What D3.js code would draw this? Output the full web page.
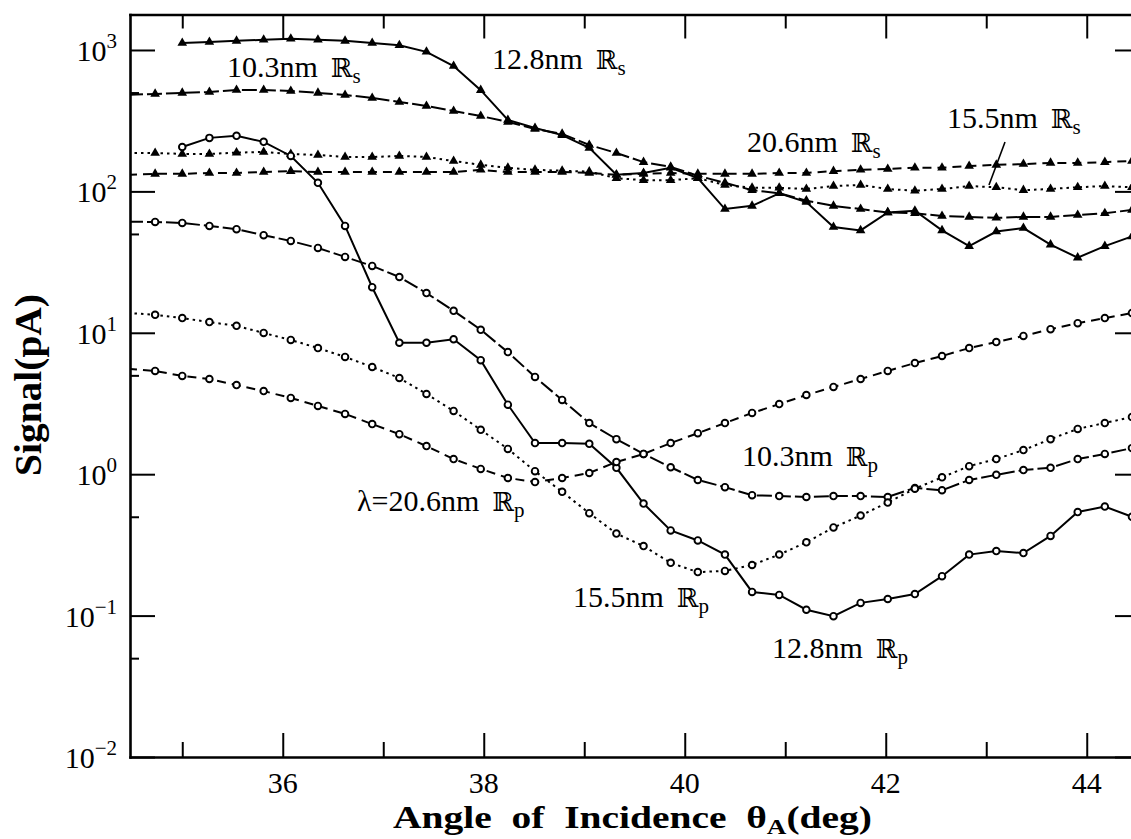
<!DOCTYPE html>
<html>
<head>
<meta charset="utf-8">
<script src="https://cdn.jsdelivr.net/npm/d3@7/dist/d3.min.js"></script>
<style>
  body { margin: 0; background: #fff; }
  svg { display: block; font-family: "Liberation Serif", "DejaVu Serif", serif; }
</style>
</head>
<body>
<div id="chart"></div>
<script>
// angle of incidence (deg) for every measured point
const angles = [34.46, 34.73, 35.00, 35.27, 35.54, 35.81, 36.08, 36.35, 36.62, 36.89,
  37.16, 37.43, 37.70, 37.97, 38.24, 38.51, 38.78, 39.05, 39.32, 39.59,
  39.86, 40.13, 40.40, 40.67, 40.94, 41.21, 41.48, 41.75, 42.02, 42.29,
  42.56, 42.83, 43.10, 43.37, 43.64, 43.91, 44.18, 44.45];

// s-polarised signal (pA), triangles
const rs128 = [null, null, 1120, 1140, 1160, 1180, 1200, 1180, 1160, 1120,
  1080, 970, 770, 520, 320, 281, 250, 203, 131, 135,
  147, 124, 75, 79, 97, 84, 56, 53, 71, 73,
  53, 41, 52, 55, 42, 34, 41, 48];
const rs103 = [481, 489, 497, 505, 521, 521, 513, 497, 481, 458,
  429, 402, 370, 341, 310, 276, 255, 213, 187, 161,
  149, 129, 115, 102, 97, 86, 79, 75, 71, 70,
  67, 66, 65, 66, 66, 68, 70, 74];
const rs155 = [187, 187, 184, 184, 188, 190, 184, 181, 175, 175,
  178, 175, 164, 154, 147, 142, 140, 138, 124, 120,
  120, 124, 111, 106, 106, 104, 109, 111, 104, 101,
  104, 109, 107, 102, 104, 107, 109, 107];
const rs206 = [131, 133, 133, 135, 135, 137, 139, 137, 137, 137,
  137, 137, 137, 142, 137, 137, 137, 135, 131, 133,
  135, 133, 133, 133, 135, 135, 139, 142, 144, 147,
  147, 151, 154, 156, 159, 159, 161, 164];

// p-polarised signal (pA), open circles
const rp128 = [null, null, 206, 239, 247, 224, 178, 115, 57, 21,
  8.5, 8.5, 9.0, 6.4, 3.1, 1.66, 1.66, 1.64, 1.11, 0.62,
  0.40, 0.34, 0.27, 0.147, 0.140, 0.110, 0.099, 0.123, 0.131, 0.142,
  0.19, 0.27, 0.286, 0.277, 0.366, 0.54, 0.59, 0.50];
const rp103 = [61, 60.8, 59.8, 57, 54, 49, 44.6, 39.8, 34.4, 29.7,
  24.8, 19.1, 14.3, 10.5, 7.3, 4.87, 3.35, 2.30, 1.77, 1.39,
  1.12, 0.91, 0.81, 0.71, 0.70, 0.69, 0.70, 0.70, 0.69, 0.80,
  0.77, 0.91, 0.99, 1.07, 1.11, 1.28, 1.39, 1.53];
const rp155 = [13.8, 13.4, 12.7, 11.9, 11.2, 9.97, 8.9, 7.8, 6.75, 5.73,
  4.79, 3.69, 2.80, 2.06, 1.51, 1.05, 0.75, 0.53, 0.38, 0.31,
  0.236, 0.203, 0.207, 0.228, 0.27, 0.33, 0.42, 0.51, 0.63, 0.79,
  0.95, 1.14, 1.28, 1.48, 1.77, 2.09, 2.30, 2.54];
const rp206 = [5.55, 5.37, 4.95, 4.71, 4.27, 3.87, 3.46, 3.04, 2.67, 2.26,
  1.92, 1.58, 1.28, 1.09, 0.94, 0.88, 0.94, 1.02, 1.22, 1.39,
  1.66, 1.95, 2.30, 2.71, 3.13, 3.63, 4.14, 4.71, 5.37, 6.11,
  6.85, 7.8, 8.6, 9.5, 10.6, 11.7, 12.7, 13.8];

// ticks
const xTicks = [36, 38, 40, 42, 44];
const xMinorTicks = [35, 37, 39, 41, 43];
const yTicks = [0.01, 0.1, 1, 10, 100, 1000];
const yTickExp = ['\u22122', '\u22121', '0', '1', '2', '3'];
const yMinorTicks = [0.05, 0.5, 5, 50, 500];

const width = 1131, height = 839;
const plot = { left: 130, right: 1140, top: 14.5, bottom: 757 };

const svg = d3.select('#chart').append('svg')
  .attr('width', width)
  .attr('height', height);

const x = d3.scaleLinear().domain([34.48, 44.53]).range([plot.left, plot.right]);
const y = d3.scaleLog().domain([0.01, 1782]).range([plot.bottom, plot.top]);

svg.append('clipPath').attr('id', 'clip')
  .append('rect')
  .attr('x', plot.left).attr('y', plot.top)
  .attr('width', plot.right - plot.left).attr('height', plot.bottom - plot.top);

// series: line style + marker
const series = [
  { values: rs128, dash: null, marker: 'tri' },
  { values: rs103, dash: '15,4', marker: 'tri' },
  { values: rs155, dash: '2.5,4', marker: 'tri' },
  { values: rs206, dash: '9,6', marker: 'tri' },
  { values: rp128, dash: null, marker: 'circ' },
  { values: rp103, dash: '15,4', marker: 'circ' },
  { values: rp155, dash: '2.5,4', marker: 'circ' },
  { values: rp206, dash: '9,6', marker: 'circ' }
];

const line = d3.line()
  .defined(d => d[1] != null)
  .x(d => x(d[0]))
  .y(d => y(d[1]));

const dataG = svg.append('g').attr('clip-path', 'url(#clip)');

series.forEach(s => {
  const pts = angles.map((a, i) => [a, s.values[i]]);
  dataG.append('path')
    .datum(pts)
    .attr('d', line)
    .attr('fill', 'none')
    .attr('stroke', '#000')
    .attr('stroke-width', 2)
    .attr('stroke-dasharray', s.dash);
});

series.forEach(s => {
  const pts = angles.map((a, i) => [a, s.values[i]])
    .filter(d => d[1] != null && d[0] >= x.domain()[0]);
  if (s.marker === 'tri') {
    dataG.selectAll(null).data(pts).enter().append('path')
      .attr('d', d3.symbol(d3.symbolTriangle, 40))
      .attr('transform', d => `translate(${x(d[0])},${y(d[1])})`)
      .attr('fill', '#000');
  } else {
    dataG.selectAll(null).data(pts).enter().append('circle')
      .attr('cx', d => x(d[0]))
      .attr('cy', d => y(d[1]))
      .attr('r', 3.3)
      .attr('fill', '#fff')
      .attr('stroke', '#000')
      .attr('stroke-width', 1.9);
  }
});

// axes, ticks pointing inward on all four sides
function styleAxis(g, keepDomain) {
  g.selectAll('.tick line').attr('stroke', '#000').attr('stroke-width', 2);
  g.selectAll('.tick text').remove();
  if (keepDomain) {
    g.select('.domain').attr('stroke', '#000').attr('stroke-width', 2.6).attr('stroke-linecap', 'square');
  } else {
    g.select('.domain').remove();
  }
}

svg.append('g').attr('transform', `translate(0,${plot.bottom})`)
  .call(d3.axisBottom(x).tickValues(xTicks).tickSizeInner(-24).tickSizeOuter(0).tickFormat(''))
  .call(g => styleAxis(g, true));
svg.append('g').attr('transform', `translate(0,${plot.bottom})`)
  .call(d3.axisBottom(x).tickValues(xMinorTicks).tickSizeInner(-15).tickSizeOuter(0).tickFormat(''))
  .call(g => styleAxis(g, false));
svg.append('g').attr('transform', `translate(0,${plot.top})`)
  .call(d3.axisTop(x).tickValues(xTicks).tickSizeInner(-24).tickSizeOuter(0).tickFormat(''))
  .call(g => styleAxis(g, true));
svg.append('g').attr('transform', `translate(0,${plot.top})`)
  .call(d3.axisTop(x).tickValues(xMinorTicks).tickSizeInner(-14).tickSizeOuter(0).tickFormat(''))
  .call(g => styleAxis(g, false));

svg.append('g').attr('transform', `translate(${plot.left},0)`)
  .call(d3.axisLeft(y).tickValues(yTicks).tickSizeInner(-25).tickSizeOuter(0).tickFormat(''))
  .call(g => styleAxis(g, true));
svg.append('g').attr('transform', `translate(${plot.left},0)`)
  .call(d3.axisLeft(y).tickValues(yMinorTicks).tickSizeInner(-9).tickSizeOuter(0).tickFormat(''))
  .call(g => styleAxis(g, false));
svg.append('g').attr('transform', `translate(${plot.right},0)`)
  .call(d3.axisRight(y).tickValues(yTicks).tickSizeInner(-25).tickSizeOuter(0).tickFormat(''))
  .call(g => styleAxis(g, true));
svg.append('g').attr('transform', `translate(${plot.right},0)`)
  .call(d3.axisRight(y).tickValues(yMinorTicks).tickSizeInner(-9).tickSizeOuter(0).tickFormat(''))
  .call(g => styleAxis(g, false));

// tick labels
xTicks.forEach(v => {
  svg.append('text')
    .attr('x', x(v)).attr('y', 793)
    .attr('text-anchor', 'middle')
    .attr('font-size', 30)
    .text(v);
});

yTicks.forEach((v, i) => {
  const t = svg.append('text')
    .attr('x', 117).attr('y', y(v) + 11)
    .attr('text-anchor', 'end')
    .attr('font-size', 30);
  t.append('tspan').text('10');
  t.append('tspan').attr('dy', -13).attr('font-size', 21).text(yTickExp[i]);
});

// axis titles
const xt = svg.append('text')
  .attr('x', 393).attr('y', 828)
  .attr('font-size', 32)
  .attr('font-weight', 'bold')
  .attr('word-spacing', 8)
  .attr('textLength', 479)
  .attr('lengthAdjust', 'spacingAndGlyphs');
xt.append('tspan').text('Angle of Incidence \u03b8');
xt.append('tspan').attr('dy', 6).attr('font-size', 22).text('A');
xt.append('tspan').attr('dy', -6).text('(deg)');

svg.append('text')
  .attr('transform', 'rotate(-90)')
  .attr('x', -385).attr('y', 41)
  .attr('text-anchor', 'middle')
  .attr('font-size', 38)
  .attr('font-weight', 'bold')
  .attr('textLength', 182)
  .attr('lengthAdjust', 'spacingAndGlyphs')
  .text('Signal(pA)');

// curve labels
const labels = [
  { x: 227, y: 77, text: '10.3nm', sub: 's' },
  { x: 492, y: 69, text: '12.8nm', sub: 's' },
  { x: 747, y: 152, text: '20.6nm', sub: 's' },
  { x: 947, y: 128, text: '15.5nm', sub: 's' },
  { x: 742, y: 466, text: '10.3nm', sub: 'p' },
  { x: 357, y: 511, text: '\u03bb=20.6nm', sub: 'p' },
  { x: 573, y: 607, text: '15.5nm', sub: 'p' },
  { x: 772, y: 658, text: '12.8nm', sub: 'p' }
];

labels.forEach(l => {
  const t = svg.append('text')
    .attr('x', l.x).attr('y', l.y)
    .attr('font-size', 30);
  t.append('tspan').text(l.text);
  t.append('tspan').attr('dx', 13)
    .attr('font-family', '"DejaVu Serif", serif')
    .attr('font-size', 26)
    .text('\u211d');
  t.append('tspan').attr('dy', 6).attr('font-size', 21).text(l.sub);
});

// leader line for 15.5nm Rs
svg.append('line')
  .attr('x1', 1005).attr('y1', 142)
  .attr('x2', 989).attr('y2', 185)
  .attr('stroke', '#000')
  .attr('stroke-width', 1.6);
</script>
</body>
</html>
